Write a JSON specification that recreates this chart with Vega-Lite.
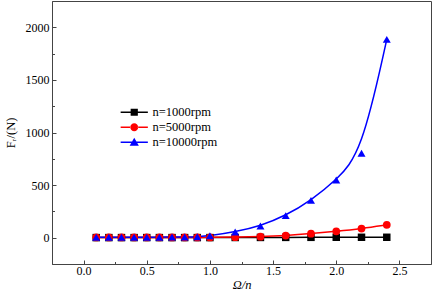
{
  "$schema": "https://vega.github.io/schema/vega-lite/v6.json",
  "width": 379,
  "height": 263,
  "autosize": {"type": "none"},
  "padding": {"left": 52, "top": 1, "right": 2, "bottom": 31},
  "background": "white",
  "config": {
    "font": "Liberation Serif",
    "view": {"stroke": "#444", "strokeWidth": 1},
    "axis": {
      "domainColor": "#444",
      "tickColor": "#444",
      "labelColor": "black",
      "titleColor": "black",
      "labelFont": "Liberation Serif",
      "titleFont": "Liberation Serif",
      "labelFontSize": 12,
      "titleFontSize": 12.5,
      "titleFontWeight": "normal",
      "grid": false
    },
    "legend": {"labelFont": "Liberation Serif", "labelFontSize": 12.5}
  },
  "data": {
    "values": [
      {"x": 0.1, "y": 1, "series": "n=1000rpm"},
      {"x": 0.2, "y": 1, "series": "n=1000rpm"},
      {"x": 0.3, "y": 1, "series": "n=1000rpm"},
      {"x": 0.4, "y": 1, "series": "n=1000rpm"},
      {"x": 0.5, "y": 1, "series": "n=1000rpm"},
      {"x": 0.6, "y": 1, "series": "n=1000rpm"},
      {"x": 0.7, "y": 1, "series": "n=1000rpm"},
      {"x": 0.8, "y": 1, "series": "n=1000rpm"},
      {"x": 0.9, "y": 1, "series": "n=1000rpm"},
      {"x": 1.0, "y": 1, "series": "n=1000rpm"},
      {"x": 1.2, "y": 2, "series": "n=1000rpm"},
      {"x": 1.4, "y": 2.5, "series": "n=1000rpm"},
      {"x": 1.6, "y": 3, "series": "n=1000rpm"},
      {"x": 1.8, "y": 3.5, "series": "n=1000rpm"},
      {"x": 2.0, "y": 4, "series": "n=1000rpm"},
      {"x": 2.2, "y": 4, "series": "n=1000rpm"},
      {"x": 2.4, "y": 4, "series": "n=1000rpm"},
      {"x": 0.1, "y": 2, "series": "n=5000rpm"},
      {"x": 0.2, "y": 2, "series": "n=5000rpm"},
      {"x": 0.3, "y": 2, "series": "n=5000rpm"},
      {"x": 0.4, "y": 2, "series": "n=5000rpm"},
      {"x": 0.5, "y": 2, "series": "n=5000rpm"},
      {"x": 0.6, "y": 2, "series": "n=5000rpm"},
      {"x": 0.7, "y": 2, "series": "n=5000rpm"},
      {"x": 0.8, "y": 2, "series": "n=5000rpm"},
      {"x": 0.9, "y": 2, "series": "n=5000rpm"},
      {"x": 1.0, "y": 3, "series": "n=5000rpm"},
      {"x": 1.2, "y": 5, "series": "n=5000rpm"},
      {"x": 1.4, "y": 10, "series": "n=5000rpm"},
      {"x": 1.6, "y": 20, "series": "n=5000rpm"},
      {"x": 1.8, "y": 38, "series": "n=5000rpm"},
      {"x": 2.0, "y": 61, "series": "n=5000rpm"},
      {"x": 2.2, "y": 87, "series": "n=5000rpm"},
      {"x": 2.4, "y": 122, "series": "n=5000rpm"},
      {"x": 0.1, "y": 5, "series": "n=10000rpm"},
      {"x": 0.2, "y": 5, "series": "n=10000rpm"},
      {"x": 0.3, "y": 5, "series": "n=10000rpm"},
      {"x": 0.4, "y": 5, "series": "n=10000rpm"},
      {"x": 0.5, "y": 5, "series": "n=10000rpm"},
      {"x": 0.6, "y": 5, "series": "n=10000rpm"},
      {"x": 0.7, "y": 6, "series": "n=10000rpm"},
      {"x": 0.8, "y": 7, "series": "n=10000rpm"},
      {"x": 0.9, "y": 9, "series": "n=10000rpm"},
      {"x": 1.0, "y": 18, "series": "n=10000rpm"},
      {"x": 1.2, "y": 55, "series": "n=10000rpm"},
      {"x": 1.4, "y": 112, "series": "n=10000rpm"},
      {"x": 1.6, "y": 210, "series": "n=10000rpm"},
      {"x": 1.8, "y": 355, "series": "n=10000rpm"},
      {"x": 2.0, "y": 548, "series": "n=10000rpm"},
      {"x": 2.2, "y": 802, "series": "n=10000rpm"},
      {"x": 2.4, "y": 1885, "series": "n=10000rpm"}
    ]
  },
  "encoding": {
    "x": {
      "field": "x",
      "type": "quantitative",
      "scale": {"domain": [-0.25, 2.75], "nice": false, "zero": false},
      "axis": {
        "title": "Ω/n",
        "titleFontStyle": "italic",
        "values": [0, 0.25, 0.5, 0.75, 1, 1.25, 1.5, 1.75, 2, 2.25, 2.5],
        "labelExpr": "round(datum.value * 4) % 2 == 0 ? format(datum.value, '.1f') : ''",
        "tickSize": {"condition": {"test": "round(datum.value * 4) % 2 == 0", "value": -4}, "value": -2.5},
        "labelPadding": 5,
        "titlePadding": 2
      }
    },
    "y": {
      "field": "y",
      "type": "quantitative",
      "scale": {"domain": [-250, 2250], "nice": false, "zero": false},
      "axis": {
        "title": "Fᵣ/(N)",
        "values": [0, 250, 500, 750, 1000, 1250, 1500, 1750, 2000],
        "labelExpr": "datum.value % 500 == 0 ? format(datum.value, 'd') : ''",
        "tickSize": {"condition": {"test": "datum.value % 500 == 0", "value": -4}, "value": -2.5},
        "labelPadding": 7,
        "titlePadding": 8
      }
    }
  },
  "resolve": {"scale": {"color": "independent", "shape": "independent", "size": "independent"}},
  "layer": [
    {
      "mark": {"type": "line", "interpolate": "basis", "strokeWidth": 1.5},
      "encoding": {
        "color": {
          "field": "series",
          "type": "nominal",
          "scale": {"domain": ["n=1000rpm", "n=5000rpm", "n=10000rpm"], "range": ["#000000", "#ff0000", "#0000ff"]},
          "legend": null
        }
      }
    },
    {
      "mark": {"type": "point", "filled": true, "opacity": 1},
      "encoding": {
        "color": {
          "field": "series",
          "type": "nominal",
          "scale": {"domain": ["n=1000rpm", "n=5000rpm", "n=10000rpm"], "range": ["#000000", "#ff0000", "#0000ff"]},
          "legend": null
        },
        "shape": {
          "field": "series",
          "type": "nominal",
          "scale": {"domain": ["n=1000rpm", "n=5000rpm", "n=10000rpm"], "range": ["square", "circle", "triangle-up"]},
          "legend": null
        },
        "size": {
          "field": "series",
          "type": "nominal",
          "scale": {"domain": ["n=1000rpm", "n=5000rpm", "n=10000rpm"], "range": [56, 64, 90]},
          "legend": null
        }
      }
    },
    {
      "transform": [{"filter": "false"}],
      "mark": {"type": "point", "filled": true, "opacity": 1, "size": 64},
      "encoding": {
        "color": {
          "field": "series",
          "type": "nominal",
          "scale": {"domain": ["n=1000rpm", "n=5000rpm", "n=10000rpm"], "range": ["#000000", "#ff0000", "#0000ff"]},
          "legend": {
            "title": null,
            "orient": "none",
            "legendX": 76,
            "legendY": 105,
            "symbolSize": 64,
            "symbolStrokeWidth": 0,
            "labelOffset": 12,
            "rowPadding": 2
          }
        },
        "shape": {
          "field": "series",
          "type": "nominal",
          "scale": {
            "domain": ["n=1000rpm", "n=5000rpm", "n=10000rpm"],
            "range": [
              "M-3.4,-0.19H-0.9V-0.9H0.9V-0.19H3.4V0.19H0.9V0.9H-0.9V0.19H-3.4Z",
              "M-3.4,-0.19H-0.9V0.19H-3.4Z M0.9,-0.19H3.4V0.19H0.9Z M-1,0A1,1 0 1,0 1,0A1,1 0 1,0 -1,0Z",
              "M-3.4,-0.19H-0.5V0.19H-3.4Z M0.5,-0.19H3.4V0.19H0.5Z M0,-1.15L1.15,0.85H-1.15Z"
            ]
          },
          "legend": {
            "title": null,
            "orient": "none",
            "legendX": 76,
            "legendY": 105,
            "symbolSize": 64,
            "symbolStrokeWidth": 0,
            "labelOffset": 12,
            "rowPadding": 2
          }
        }
      }
    }
  ]
}
